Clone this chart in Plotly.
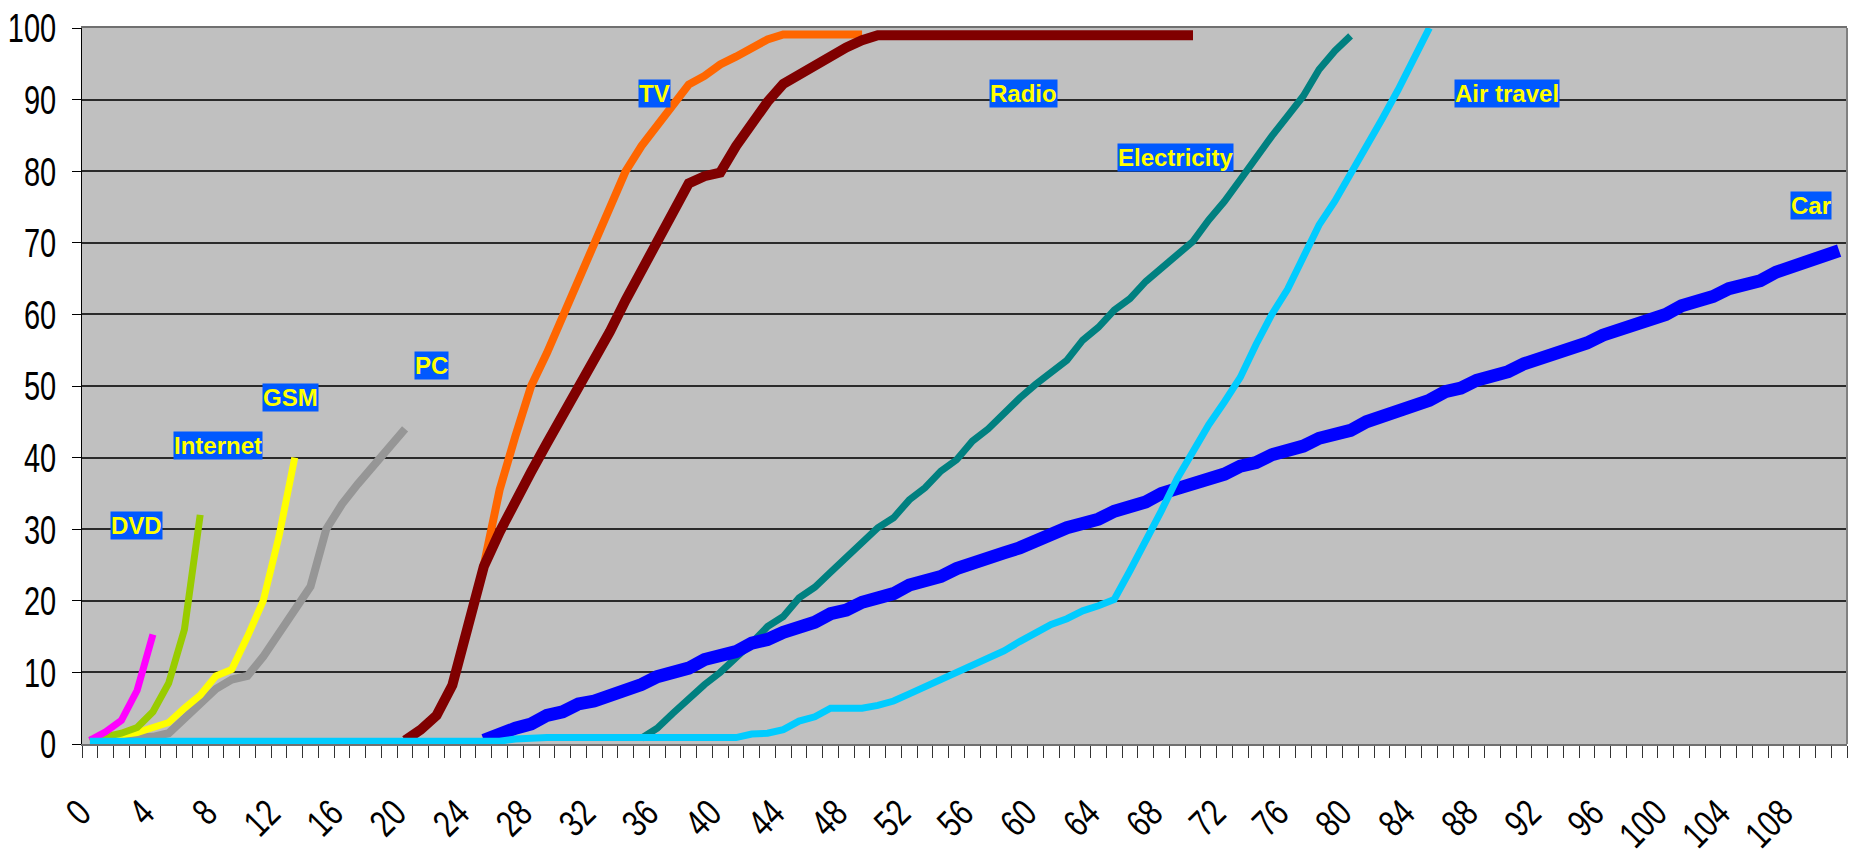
import plotly.graph_objects as go

# ---------------- data ----------------
categories = list(range(112))          # category axis 0..111
tick_labels = [str(v) for v in range(0, 109, 4)]

dvd_start = 0
dvd = [0.5, 1.7, 3.3, 7.5, 15.3]

internet_start = 0
internet = [0.5, 1.0, 1.5, 2.3, 4.5, 8.5, 16.0, 32.0]

gsm_start = 0
gsm = [0.5, 1.0, 1.3, 1.6, 2.3, 3.0, 5.0, 6.8, 9.5, 10.4, 15.0, 20.0, 29.0, 40.0]

pc_start = 0
pc = [0.5, 0.8, 1.0, 1.0, 1.0, 1.5, 3.6, 5.5, 7.7, 9.0, 9.5, 12.2, 15.6, 19.0,
      22.0, 30.0, 33.5, 36.3, 39.0, 41.3, 44.0]

tv_start = 25
tv = [25.0, 35.5, 43.0, 50.0, 54.6, 59.7, 65.0, 70.0, 75.0, 80.0, 83.5, 86.5,
      89.3, 92.1, 93.3, 94.9, 96.0, 97.2, 98.4, 99.1, 99.1, 99.1, 99.1, 99.1, 99.1]

radio_start = 20
radio = [0.5, 2.0, 4.0, 8.2, 16.5, 24.8, 29.6, 34.0, 38.0, 42.0, 45.8, 49.7,
         53.5, 57.6, 62.0, 66.0, 70.0, 74.0, 78.3, 79.3, 79.8, 83.5, 86.7, 89.7,
         92.2, 93.5, 95.0, 96.2, 97.3, 98.3, 99.0, 99.0, 99.0, 99.0, 99.0, 99.0,
         99.0, 99.0, 99.0, 99.0, 99.0, 99.0, 99.0, 99.0, 99.0, 99.0, 99.0, 99.0,
         99.0, 99.0, 99.0]

electricity_start = 35
electricity = [0.8, 2.2, 4.3, 6.4, 8.3, 10.0, 12.0, 14.1, 16.4, 17.8, 20.4, 21.9,
               24.0, 26.0, 28.1, 30.2, 31.6, 34.1, 35.8, 38.1, 39.7, 42.3, 44.0,
               46.3, 48.3, 50.2, 52.0, 53.6, 56.4, 58.2, 60.6, 62.2, 64.6, 66.4,
               68.4, 70.2, 73.2, 75.8, 78.8, 82.0, 84.9, 87.7, 90.5, 94.2, 96.8, 98.9]

car_start = 25
car = [0.5, 1.5, 2.2, 2.8, 4.0, 4.5, 5.6, 6.0, 6.7, 7.8, 8.3, 9.4, 9.9, 10.6,
       11.8, 12.2, 12.9, 14.1, 14.6, 15.6, 16.3, 17.0, 18.2, 18.7, 19.8, 20.3,
       21.0, 22.2, 22.7, 23.4, 24.5, 25.1, 26.1, 26.7, 27.4, 28.4, 29.1, 30.2,
       30.8, 31.4, 32.5, 33.1, 33.8, 35.0, 35.6, 36.5, 37.0, 37.7, 38.8, 39.3,
       40.4, 40.9, 41.6, 42.7, 43.2, 43.8, 45.0, 45.7, 46.8, 47.3, 48.0, 49.2,
       49.7, 50.8, 51.4, 52.0, 53.1, 53.8, 54.3, 55.4, 56.0, 57.1, 57.8, 58.3,
       59.4, 60.0, 61.2, 61.8, 62.5, 63.6, 64.2, 64.7, 65.9, 66.6, 67.7, 68.3, 68.9]

air_start = 0
air = [0.4, 0.4, 0.4, 0.4, 0.4, 0.4, 0.4, 0.4, 0.4, 0.4, 0.4, 0.4,
       0.4, 0.4, 0.4, 0.4, 0.4, 0.4, 0.4, 0.4, 0.4, 0.4, 0.4, 0.4, 0.4, 0.4,
       0.4, 0.7, 0.9, 0.9, 0.9, 0.9, 0.9, 0.9, 0.9, 0.9, 0.9, 0.9, 0.9, 0.9,
       0.9, 0.9, 1.4, 1.5, 2.0, 3.2, 3.8, 5.0, 5.0, 5.0, 5.4, 6.0, 7.0, 8.0,
       9.0, 9.8, 11.0, 12.0, 13.0, 14.3, 15.6, 16.7, 17.5, 18.6, 19.3, 20.2,
       24.2, 28.3, 32.6, 37.1, 40.8, 44.6, 47.8, 51.2, 55.8, 60.0, 63.5, 67.8,
       72.5, 75.8, 79.5, 83.2, 87.3, 91.3, 95.6, 100.0]

# label name, x position (category), y position (value)
label_names = ["DVD", "Internet", "GSM", "PC", "TV", "Radio", "Electricity", "Air travel", "Car"]
label_x = [2.93, 8.16, 12.7, 21.7, 35.8, 59.26, 68.9, 89.9, 109.2]
label_y = [30.5, 41.7, 48.4, 52.85, 90.85, 90.85, 81.9, 90.85, 75.2]

# ---------------- figure ----------------
series = [
    ("TV", tv_start, tv, "#FF6600", 8),
    ("Radio", radio_start, radio, "#800000", 10),
    ("Electricity", electricity_start, electricity, "#008080", 7),
    ("Car", car_start, car, "#0000FF", 13),
    ("PC", pc_start, pc, "#969696", 8),
    ("GSM", gsm_start, gsm, "#FFFF00", 7),
    ("Internet", internet_start, internet, "#99CC00", 7),
    ("DVD", dvd_start, dvd, "#FF00FF", 7),
    ("Air travel", air_start, air, "#00CCFF", 7),
]

fig = go.Figure()
for name, start, vals, color, width in series:
    fig.add_trace(go.Scatter(
        x=categories[start:start + len(vals)], y=vals, mode="lines", name=name,
        line=dict(color=color, width=width, shape="linear"),
        hoverinfo="skip", showlegend=False,
    ))

for txt, lx, ly in zip(label_names, label_x, label_y):
    fig.add_annotation(
        x=lx, y=ly, xref="x", yref="y", text=txt, showarrow=False,
        xanchor="center", yanchor="middle",
        font=dict(family="Liberation Sans, Arial", size=24, color="#FFFF00", weight="bold"),
        bgcolor="#0059FF", borderpad=0,
    )

tick_font = "Liberation Sans, Arial"

fig.update_layout(
    width=1853, height=864,
    margin=dict(l=82, r=6, t=28, b=120, pad=0),
    paper_bgcolor="white", plot_bgcolor="#C0C0C0",
    xaxis=dict(
        range=[-0.5, 111.5], tickmode="array",
        tickvals=[int(t) for t in tick_labels], ticktext=tick_labels,
        tickangle=-45, ticks="", showgrid=False, zeroline=False, automargin=False,
        showline=True, linecolor="#707070", linewidth=2, mirror=True,
        tickfont=dict(family=tick_font, size=29, color="black"),
        ticklabelstandoff=37, ticklabelshift=-9,
        minor=dict(tick0=-0.5, dtick=1, ticks="outside", ticklen=12,
                   tickcolor="#333333", tickwidth=1, showgrid=False),
    ),
    yaxis=dict(
        range=[0, 100], tickmode="linear", tick0=0, dtick=10, automargin=False,
        ticks="outside", ticklen=9, tickcolor="black", tickwidth=1,
        showgrid=True, gridcolor="#2a2a2a", gridwidth=1.5, zeroline=False,
        showline=True, linecolor="black", linewidth=1,
        tickfont=dict(family=tick_font, size=29, color="black"),
        ticklabelstandoff=10,
    ),
)

# right border of plot area (grey)
fig.add_shape(type="line", xref="paper", yref="paper", x0=1, x1=1, y0=0, y1=1,
              line=dict(color="#808080", width=2))

# the original axis font is a narrow face (tall digits); emulate it by
# stretching each tick label vertically in its own frame, around its centre
post_js = """
(function(){
  var gd = document.getElementById('{plot_id}');
  if (!gd) return;
  function stretchSel(sel, k){
    gd.querySelectorAll(sel).forEach(function(t){
      var tr = t.getAttribute('transform') || '';
      if (tr.indexOf('scale(1,') >= 0) return;
      var b = t.getBBox();
      var cx = b.x + b.width / 2, cy = b.y + b.height / 2;
      t.setAttribute('transform', tr + ' translate(' + cx + ',' + cy + ') scale(1,' + k + ') translate(' + (-cx) + ',' + (-cy) + ')');
    });
  }
  function run(){ stretchSel('.ytick text', 1.42); stretchSel('.xtick text', 1.3); }
  if (gd.on) gd.on('plotly_afterplot', run);
  run();
  setTimeout(run, 50);
  setTimeout(run, 400);
})();
"""

fig.write_html("out.html", post_script=post_js)
